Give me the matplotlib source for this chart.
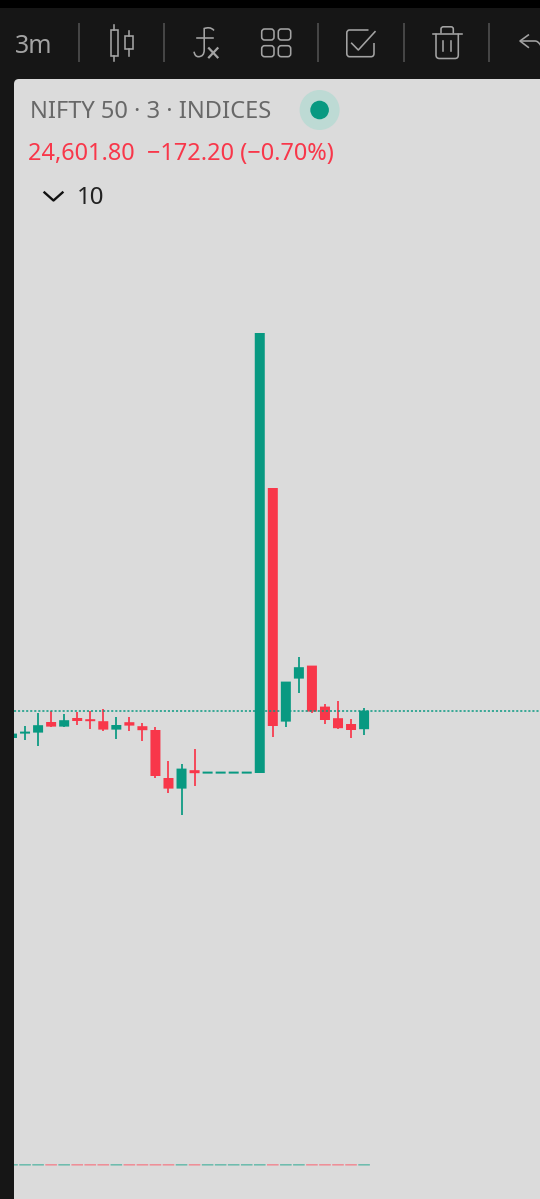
import matplotlib
matplotlib.use("Agg")
import matplotlib.pyplot as plt
from matplotlib.patches import Circle, FancyBboxPatch, Rectangle
from matplotlib.path import Path
from matplotlib.patches import PathPatch

plt.rcParams['font.family'] = ['Noto Sans', 'DejaVu Sans']

# ---- data -------------------------------------------------------------
opens = [24588.3, 24591.0, 24591.0, 24596.3, 24594.0, 24598.3, 24597.8, 24596.7,
         24592.5, 24596.2, 24594.2, 24592.3, 24568.3, 24563.0, 24572.2, 24571.0,
         24571.0, 24571.0, 24571.0, 24570.8, 24713.3, 24596.5, 24618.0, 24624.5,
         24604.0, 24598.2, 24595.3, 24592.7]
highs = [24590.8, 24594.3, 24601.0, 24602.0, 24600.3, 24601.3, 24601.6, 24603.0,
         24599.0, 24598.7, 24596.0, 24593.7, 24576.8, 24575.3, 24582.7, 24571.0,
         24571.0, 24571.0, 24571.0, 24790.8, 24713.3, 24616.5, 24628.7, 24624.5,
         24605.2, 24607.0, 24597.7, 24603.5]
lows = [24588.0, 24587.3, 24584.3, 24594.0, 24594.0, 24594.8, 24593.0, 24592.0,
        24587.7, 24592.0, 24587.0, 24568.2, 24561.0, 24549.8, 24564.3, 24571.0,
        24571.0, 24571.0, 24571.0, 24570.8, 24589.0, 24593.7, 24610.7, 24601.0,
        24595.3, 24592.7, 24588.5, 24589.7]
closes = [24590.5, 24591.8, 24594.7, 24594.0, 24597.2, 24596.8, 24597.2, 24592.5,
          24594.8, 24594.5, 24592.2, 24569.3, 24563.0, 24573.0, 24570.7, 24571.0,
          24571.0, 24571.0, 24571.0, 24790.8, 24594.3, 24616.5, 24623.7, 24601.5,
          24597.3, 24593.2, 24592.3, 24602.0]
volumes = [1] * 28
last_price = 24601.8

title_text = "NIFTY 50 \u00b7 3 \u00b7 INDICES"
quote_text = "24,601.80  \u2212172.20 (\u22120.70%)"
interval_text = "3m"
study_text = "10"

GREEN = "#089981"
RED = "#f8374a"
GREEN_PALE = "#6fbcae"
RED_PALE = "#ee8f98"
PANEL = "#dbdbdb"
DARK = "#161616"

W, H = 540, 1199
fig = plt.figure(figsize=(W / 100, H / 100), dpi=100, facecolor=DARK)


def px_axes(x0, y0, x1, y1, **kw):
    """Axes placed by its pixel box, y measured from the top of the image."""
    return fig.add_axes([x0 / W, 1 - y1 / H, (x1 - x0) / W, (y1 - y0) / H], **kw)


# ---- interface layer ---------------------------------------------------
ui = px_axes(0, 0, W, H)
ui.set_xlim(0, W)
ui.set_ylim(H, 0)
ui.axis("off")
ui.add_patch(Rectangle((0, 0), W, 8, color="black", lw=0))
ui.add_patch(FancyBboxPatch((14, 79), W + 40, H, boxstyle="round,pad=0,rounding_size=5",
                            fc=PANEL, ec="none"))
for sx in (78.5, 163.7, 318, 403.7, 489.3):
    ui.plot([sx, sx], [22.5, 62.3], color="#4b4b4b", lw=1.3, solid_capstyle="butt")

ICON = "#a3a3a3"
ilw = 1.15


def rbox(x0, y0, x1, y1, r=3, **kw):
    ui.add_patch(FancyBboxPatch((x0, y0), x1 - x0, y1 - y0,
                                boxstyle=f"round,pad=0,rounding_size={r}",
                                fc="none", ec=ICON, lw=ilw, **kw))


def line(xs, ys, **kw):
    ui.plot(xs, ys, color=kw.pop("color", ICON), lw=kw.pop("lw", ilw), **kw)


ui.text(14.5, 53, interval_text, color=ICON, fontsize=18, va="baseline", ha="left")
# candle icon
ui.add_patch(Rectangle((110.7, 30), 7.6, 25.7, fc="none", ec=ICON, lw=ilw))
line([114.4, 114.4], [25, 30]); line([114.4, 114.4], [55.7, 60.7])
ui.add_patch(Rectangle((125, 35.7), 8.3, 13.6, fc="none", ec=ICON, lw=ilw))
line([129, 129], [30.7, 35.7]); line([129, 129], [49.3, 55.7])
# fx icon
ui.add_patch(PathPatch(Path([(214, 30.5), (211, 27), (207.5, 27.5), (204.2, 28.5), (204.2, 34),
                             (204.2, 50), (204.2, 56.7), (198.3, 56.7), (195, 56.7), (194, 51.7)],
                            [Path.MOVETO, Path.CURVE4, Path.CURVE4, Path.CURVE4, Path.LINETO,
                             Path.LINETO, Path.CURVE3, Path.CURVE3, Path.CURVE3, Path.CURVE3]),
                       fc="none", ec=ICON, lw=ilw))
line([197.3, 213.3], [38.3, 38.3])
line([209, 217.5], [48.3, 57.3], lw=1.6); line([217.5, 209], [48.3, 57.3], lw=1.6)
# grid icon
for gx0, gx1 in ((261.7, 274), (278.3, 290.7)):
    for gy0, gy1 in ((29, 40), (45.7, 56.7)):
        rbox(gx0, gy0, gx1, gy1, r=3)
# checkbox icon
ui.add_patch(PathPatch(Path([(368.5, 30), (349.5, 30), (346.8, 30), (346.8, 33),
                             (346.8, 53.5), (346.8, 56.7), (349.5, 56.7), (371, 56.7),
                             (374, 56.7), (374, 53.5), (374, 43)],
                            [Path.MOVETO, Path.LINETO, Path.CURVE3, Path.CURVE3,
                             Path.LINETO, Path.CURVE3, Path.CURVE3, Path.LINETO,
                             Path.CURVE3, Path.CURVE3, Path.LINETO]),
                       fc="none", ec=ICON, lw=ilw))
line([351.7, 358.3, 375], [43.3, 50, 31.7])
# trash icon
line([432.7, 461.7], [33.5, 33.5])
ui.add_patch(PathPatch(Path([(441, 33.5), (441, 29), (441, 26.8), (443.5, 26.8), (451, 26.8),
                             (453.3, 26.8), (453.3, 29), (453.3, 33.5)],
                            [Path.MOVETO, Path.LINETO, Path.CURVE3, Path.CURVE3,
                             Path.LINETO, Path.CURVE3, Path.CURVE3, Path.LINETO]),
                       fc="none", ec=ICON, lw=ilw))
ui.add_patch(PathPatch(Path([(436, 33.5), (436, 55), (436, 58.5), (439.5, 58.5),
                             (455, 58.5), (458.3, 58.5), (458.3, 55), (458.3, 33.5)],
                            [Path.MOVETO, Path.LINETO, Path.CURVE3, Path.CURVE3,
                             Path.LINETO, Path.CURVE3, Path.CURVE3, Path.LINETO]),
                       fc="none", ec=ICON, lw=ilw))
line([442.9, 442.9], [41, 51]); line([450.7, 450.7], [41, 51])
# undo icon
line([528.3, 520, 528.3], [35, 41, 47.3])
ui.add_patch(PathPatch(Path([(520, 41), (535, 41), (538.5, 41), (541, 46)],
                            [Path.MOVETO, Path.LINETO, Path.CURVE3, Path.CURVE3]),
                       fc="none", ec=ICON, lw=ilw))

# legend block
ui.text(30, 117.5, title_text, color="#686868", fontsize=17.05, va="baseline", ha="left")
ui.text(28, 160, quote_text, color=RED, fontsize=16.95, va="baseline", ha="left")
ui.text(77, 204.5, study_text, color="#222222", fontsize=17.3, va="baseline", ha="left")
line([44.5, 53.5, 62.5], [192.5, 200.5, 192.5], color="#111111", lw=1.7)
ui.add_patch(Circle((319.6, 110), 20, fc="#bddad4", ec="none"))
ui.add_patch(Circle((319.6, 110), 9.3, fc=GREEN, ec="none"))

# ---- price pane --------------------------------------------------------
ax = px_axes(14, 79, W, H)
ax.patch.set_alpha(0)
ax.axis("off")
ax.set_xlim(0.153, 40.49)
ax.set_ylim(24357.8, 24917.8)

xs = range(len(opens))
body_w = 10 / 13.04
for i in xs:
    c = GREEN if closes[i] >= opens[i] else RED
    ax.vlines(i, lows[i], highs[i], color=c, lw=1.25, zorder=2)
    b0, b1 = min(opens[i], closes[i]), max(opens[i], closes[i])
    flat = b1 - b0 < 1.0
    bars = ax.bar(i, max(b1 - b0, 1.0), bottom=b0 - (0.5 if flat else 0), width=body_w,
                  color=c, lw=0, zorder=3)
    for b in bars:
        b.set_snap(False)

ax.axhline(last_price, color=GREEN, lw=1.08, dashes=(1.4, 1.3), zorder=4)

# ---- volume strip ------------------------------------------------------
vax = px_axes(14, 1163.6, W, 1165.6)
vax.patch.set_alpha(0)
vax.axis("off")
vax.set_xlim(0.153, 40.49)
vax.set_ylim(0, 1)
vcolors = [GREEN_PALE if closes[i] >= opens[i] else RED_PALE for i in xs]
vbars = vax.bar(list(xs), volumes, width=11.6 / 13.04, color=vcolors, lw=0)
for b in vbars:
    b.set_snap(False)

fig.savefig("out.png", dpi=100, facecolor=DARK)
